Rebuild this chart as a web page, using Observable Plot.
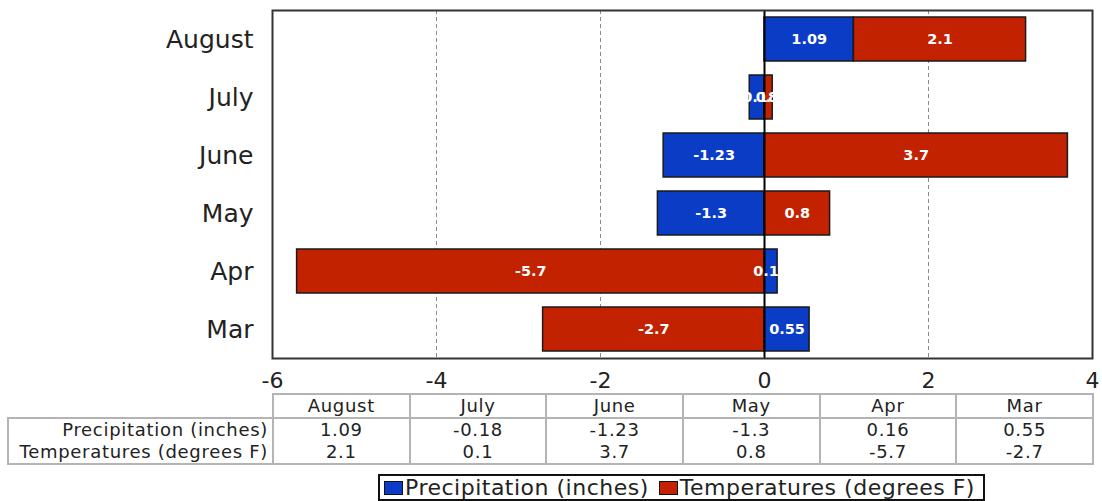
<!DOCTYPE html>
<html>
<head>
<meta charset="utf-8">
<script src="https://cdn.jsdelivr.net/npm/d3@7"></script>
<script src="https://cdn.jsdelivr.net/npm/@observablehq/plot@0.6"></script>
<style>
  html, body { margin: 0; padding: 0; background: #fff; }
  body { font-family: "DejaVu Sans", Verdana, sans-serif; color: #222; }
  #wrap { position: relative; width: 1102px; height: 501px; overflow: hidden; }
  #chart { position: absolute; left: 0; top: 0; }
  #tbl { position: absolute; left: 7px; top: 393px; border-collapse: collapse; table-layout: fixed; font-size: 18px; letter-spacing: 0.7px; }
  #tbl td { border-left: 2px solid #b4b4b4; border-right: 2px solid #b4b4b4; height: 22px; padding: 0; text-align: center; white-space: nowrap; line-height: 22px; }
  #tbl thead td { border-top: 2px solid #b4b4b4; border-bottom: 2px solid #b4b4b4; }
  #tbl thead td.blank { border-top: none; border-left: none; }
  #tbl tbody tr:last-child td { border-bottom: 2px solid #b4b4b4; }
  #tbl td.lab { text-align: right; padding-right: 4px; }
  #legend { position: absolute; left: 378px; top: 474px; width: 603px; height: 23px; border: 2px solid #111;
            display: flex; align-items: center; font-size: 22px; letter-spacing: 0.5px; white-space: nowrap; }
  .sw { display: inline-block; width: 17px; height: 12px; border: 1.5px solid #111; margin: 0 2px 0 4px; }
  .gap { display: inline-block; width: 6px; }
</style>
</head>
<body>
<div id="wrap">
  <div id="chart"></div>
  <table id="tbl"></table>
  <div id="legend"></div>
</div>
<script>
const months = ["August", "July", "June", "May", "Apr", "Mar"];
const seriesNames = ["Precipitation (inches)", "Temperatures (degrees F)"];
const precipitation = [1.09, -0.18, -1.23, -1.3, 0.16, 0.55];
const temperatures = [2.1, 0.1, 3.7, 0.8, -5.7, -2.7];
const xTicks = [-6, -4, -2, 0, 2, 4];
const gridTicks = [-4, -2, 2];
const colors = ["#0a3cc6", "#c22200"];

const data = [];
months.forEach((m, i) => {
  data.push({month: m, series: seriesNames[0], value: precipitation[i]});
  data.push({month: m, series: seriesNames[1], value: temperatures[i]});
});

const chart = Plot.plot({
  width: 1102,
  height: 393,
  marginTop: 10,
  marginBottom: 35,
  marginLeft: 272,
  marginRight: 10,
  style: {fontFamily: "DejaVu Sans, Verdana, sans-serif", color: "#222", background: "transparent"},
  x: {domain: [-6, 4], ticks: xTicks},
  y: {domain: months, paddingInner: 0.25, paddingOuter: 0.12},
  color: {domain: seriesNames, range: colors},
  marks: [
    Plot.ruleX(gridTicks, {stroke: "#8a8a8a", strokeDasharray: "4,3", strokeWidth: 1}),
    Plot.barX(data, Plot.stackX({x: "value", y: "month", fill: "series", stroke: "#1a1a1a", strokeWidth: 1.5})),
    Plot.ruleX([0], {stroke: "#000", strokeWidth: 2}),
    Plot.text(data, Plot.stackX({x: "value", y: "month", text: d => String(d.value), fill: "white", fontWeight: "bold", fontSize: 14.5})),
    Plot.frame({stroke: "#333", strokeWidth: 2}),
    Plot.axisX({ticks: xTicks, tickSize: 0, tickPadding: 14, fontSize: 22, label: null, tickFormat: d => String(d).replace("−", "-")}),
    Plot.axisY({tickSize: 0, tickPadding: 19, fontSize: 25, label: null})
  ]
});
document.getElementById("chart").append(chart);

// Data table
const tbl = document.getElementById("tbl");
let html = '<colgroup><col style="width:265px">' + months.map(() => '<col style="width:136.67px">').join("") + '</colgroup>';
html += '<thead><tr><td class="blank"></td>' + months.map(m => `<td>${m}</td>`).join("") + '</tr></thead><tbody>';
html += `<tr><td class="lab">${seriesNames[0]}</td>` + precipitation.map(v => `<td>${v}</td>`).join("") + '</tr>';
html += `<tr><td class="lab">${seriesNames[1]}</td>` + temperatures.map(v => `<td>${v}</td>`).join("") + '</tr>';
html += '</tbody>';
tbl.innerHTML = html;

// Legend
const legend = document.getElementById("legend");
legend.innerHTML = seriesNames.map((s, i) =>
  `<span class="sw" style="background:${colors[i]}"></span><span>${s}</span>`).join('<span class="gap"></span>');
</script>
</body>
</html>
